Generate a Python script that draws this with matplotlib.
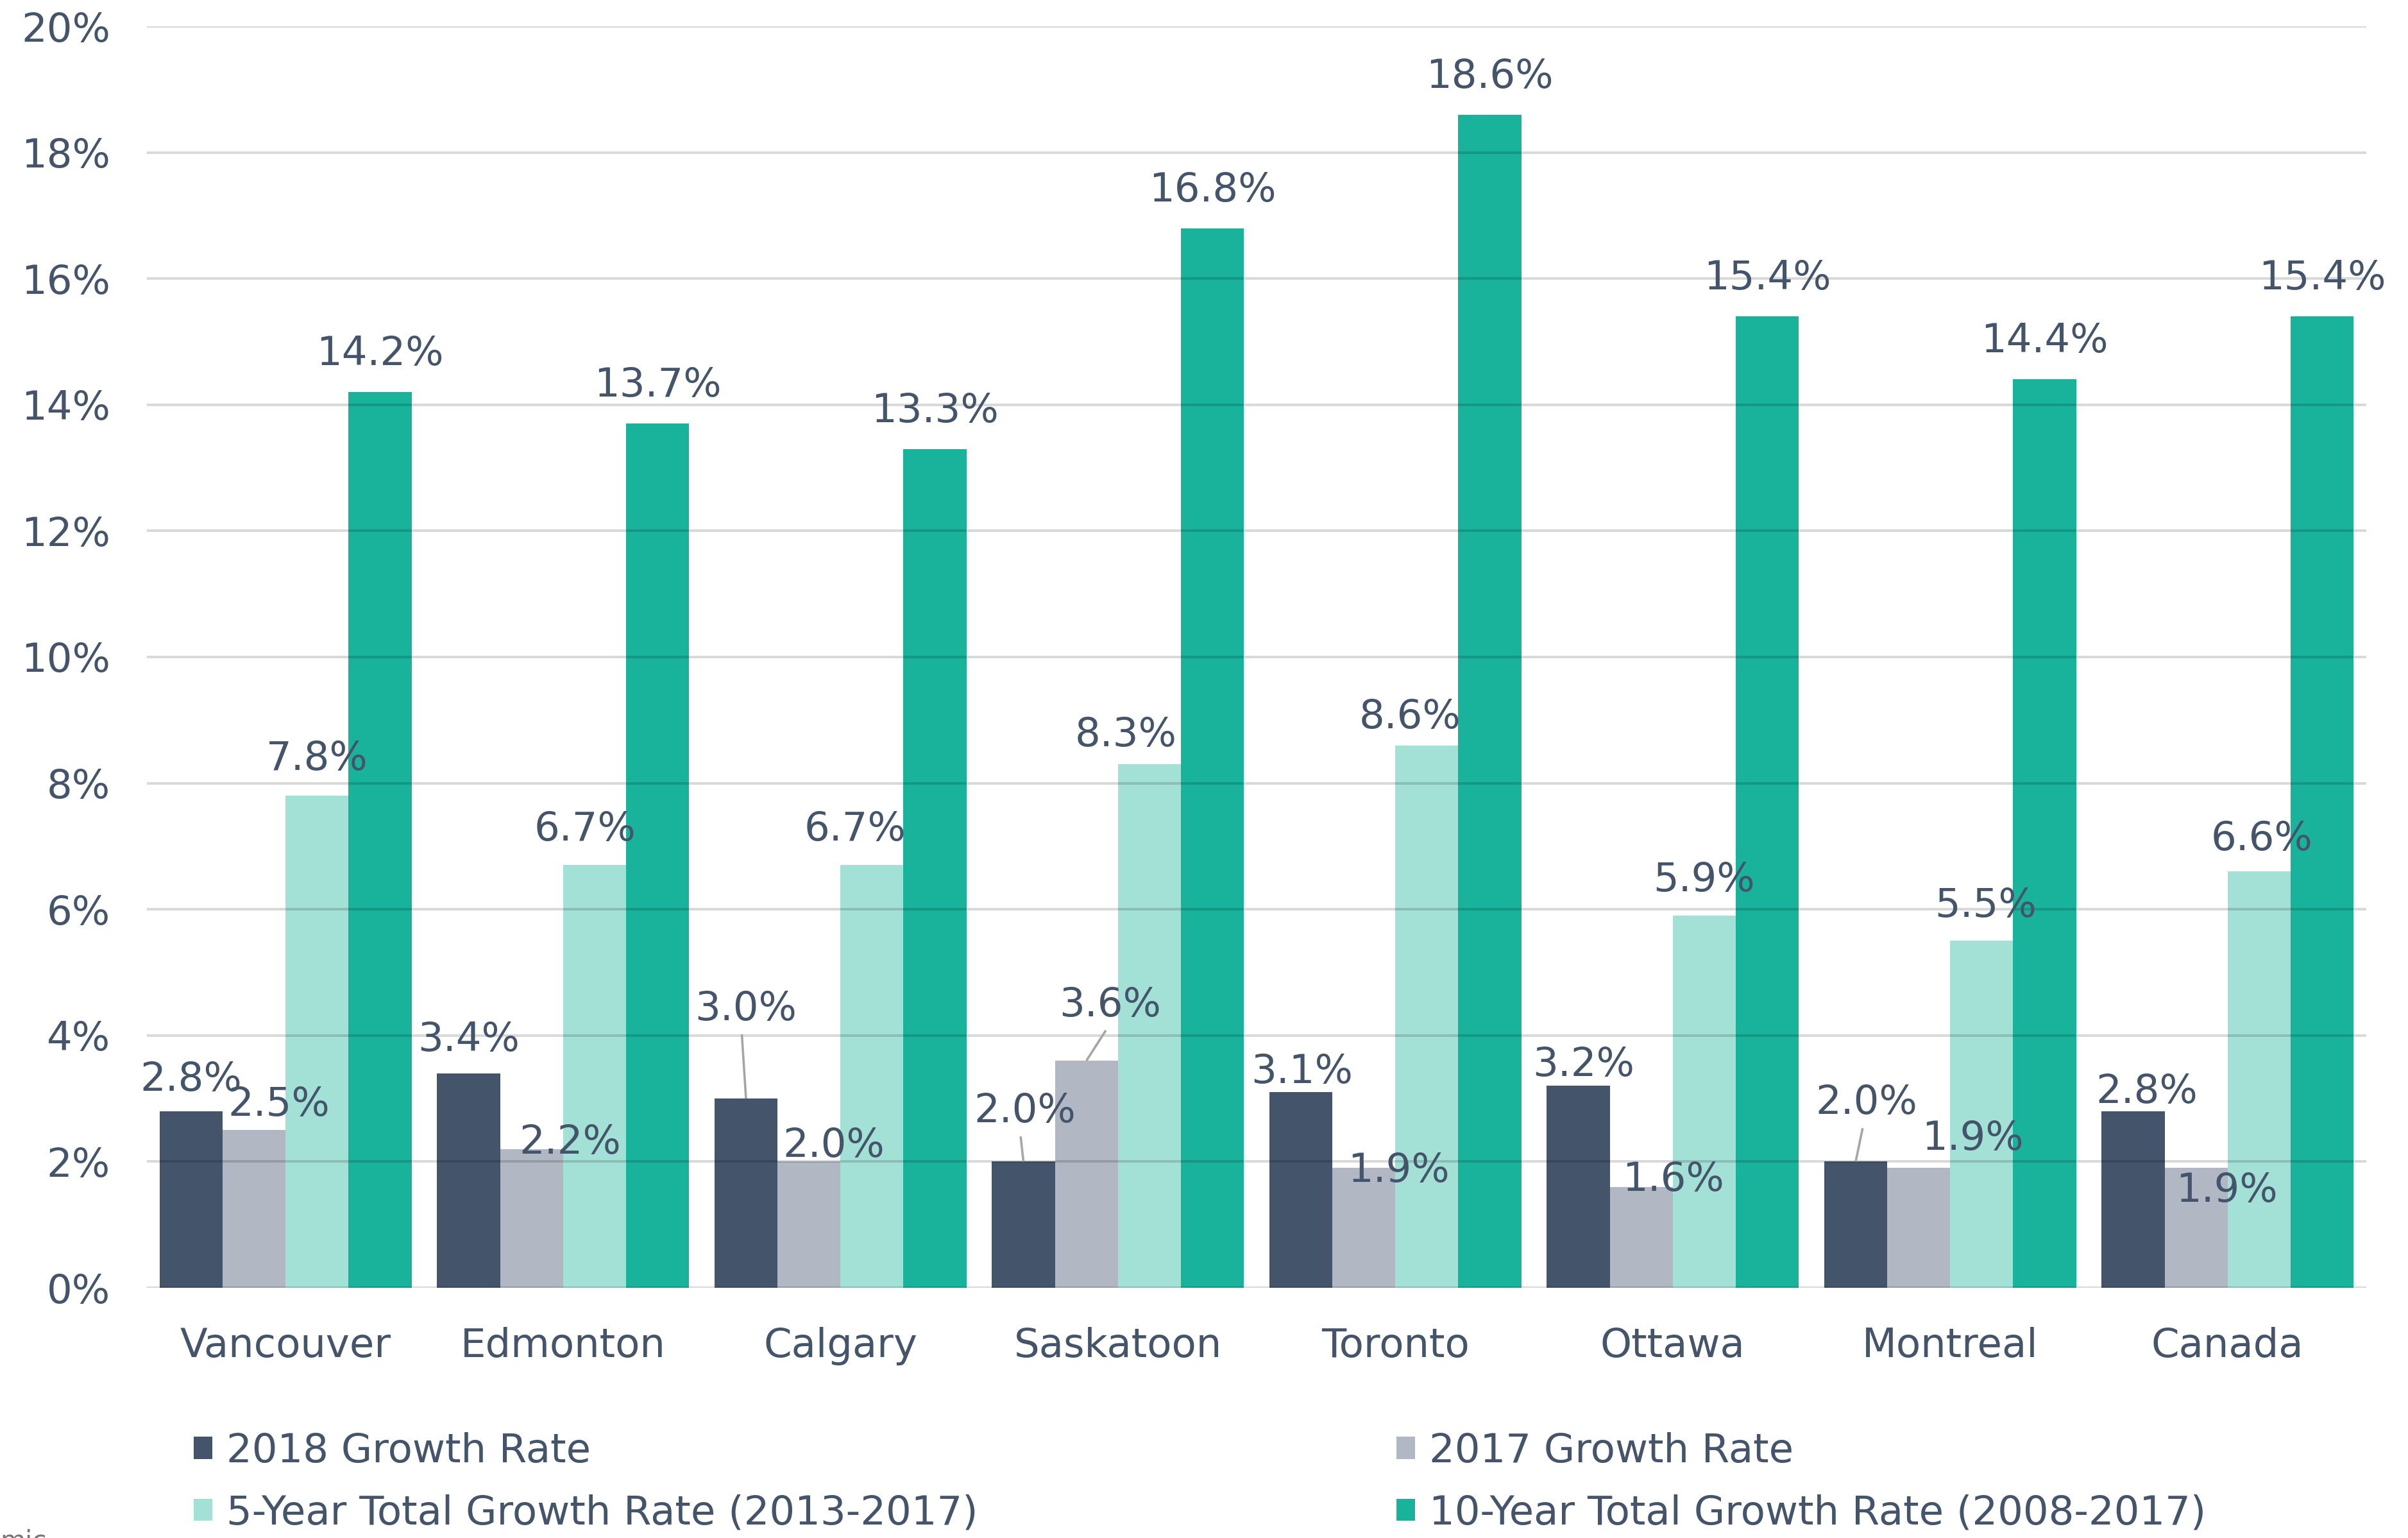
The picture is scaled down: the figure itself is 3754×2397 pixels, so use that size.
import matplotlib
matplotlib.use("Agg")
import matplotlib.pyplot as plt
import numpy as np

cities = ["Vancouver", "Edmonton", "Calgary", "Saskatoon", "Toronto", "Ottawa", "Montreal", "Canada"]
growth_2018 = [2.8, 3.4, 3.0, 2.0, 3.1, 3.2, 2.0, 2.8]
growth_2017 = [2.5, 2.2, 2.0, 3.6, 1.9, 1.6, 1.9, 1.9]
growth_5yr = [7.8, 6.7, 6.7, 8.3, 8.6, 5.9, 5.5, 6.6]
growth_10yr = [14.2, 13.7, 13.3, 16.8, 18.6, 15.4, 14.4, 15.4]
series_names = ["2018 Growth Rate", "2017 Growth Rate",
                "5-Year Total Growth Rate (2013-2017)", "10-Year Total Growth Rate (2008-2017)"]
yticks = [0, 2, 4, 6, 8, 10, 12, 14, 16, 18, 20]

# label placement: offset of label centre from bar top (x in category units, y in %)
lab_dx = [
    [0, 0, 0, 0.005, 0.005, 0.02, 0.04, 0.05],
    [0.09, 0.14, 0.09, 0.085, 0.125, 0.115, 0.195, 0.11],
    [0, -0.035, -0.06, -0.085, -0.06, 0, 0.015, 0.01],
    [0] * 8,
]
lab_dy = [
    [0.5, 0.53, 1.42, 0.8, 0.32, 0.33, 0.93, 0.3],
    [0.4, 0.1, 0.25, 0.88, -0.05, 0.11, 0.46, -0.36],
    [0.58, 0.56, 0.56, 0.46, 0.44, 0.56, 0.55, 0.51],
    [0.6] * 8,
]
# (series, city) pairs that get a leader line
leaders = [(0, 2), (0, 3), (1, 3), (0, 6)]

colors = ["#44546A", "#B1B8C3", "#A3E0D6", "#19B39B"]
text_col = "#44546A"
fs = 45

fig = plt.figure(figsize=(37.55, 23.97), dpi=100)
ax = fig.add_axes([229 / 3755, 1 - 2007 / 2397, (3689 - 229) / 3755, (2007 - 41) / 2397])

x = np.arange(len(cities))
w = 0.227
values = [growth_2018, growth_2017, growth_5yr, growth_10yr]
handles = []
for s, vals in enumerate(values):
    xs = x + (s - 1.5) * w
    b = ax.bar(xs, vals, w, color=colors[s], linewidth=0, label=series_names[s], zorder=1)
    handles.append(b)
    for i, v in enumerate(vals):
        lx = xs[i] + lab_dx[s][i]
        ly = v + lab_dy[s][i]
        ax.text(lx, ly, f"{v:.1f}%", ha="center", va="center", fontsize=fs,
                color=text_col, zorder=4)
        if (s, i) in leaders:
            ax.plot([xs[i], lx - 0.015], [v, ly - 0.4], color="#A6A6A6", lw=2.6,
                    zorder=3, solid_capstyle="butt")

ax.set_xlim(-0.5, len(cities) - 0.5)
ax.set_ylim(0, 20)
ax.set_yticks(yticks)
ax.set_yticklabels([f"{t}%" for t in yticks])
ax.set_xticks(x)
ax.set_xticklabels(cities)
ax.tick_params(axis="y", length=0, pad=41, labelsize=fs, labelcolor=text_col)
ax.tick_params(axis="x", length=0, pad=44, labelsize=fs, labelcolor=text_col)
for sp in ax.spines.values():
    sp.set_visible(False)
for t in yticks:
    ax.axhline(t, color="black", alpha=0.15, lw=2.9, zorder=2.5)

# two legend columns placed independently
leg_kw = dict(frameon=False, fontsize=fs, handlelength=0.47, handleheight=0.47,
              handletextpad=0.35, labelspacing=0.58, borderpad=0, borderaxespad=0,
              loc="center left", labelcolor=text_col)
fig.legend([handles[0], handles[2]], [series_names[0], series_names[2]],
           bbox_to_anchor=(302 / 3755, 1 - 2310 / 2397), **leg_kw)
fig.legend([handles[1], handles[3]], [series_names[1], series_names[3]],
           bbox_to_anchor=(2177 / 3755, 1 - 2310 / 2397), **leg_kw)

fig.text(0.0, 1 - 2382 / 2397, "mic", fontsize=29, color="#7F7373", va="top", ha="left")

fig.savefig("out.png", dpi=100)
